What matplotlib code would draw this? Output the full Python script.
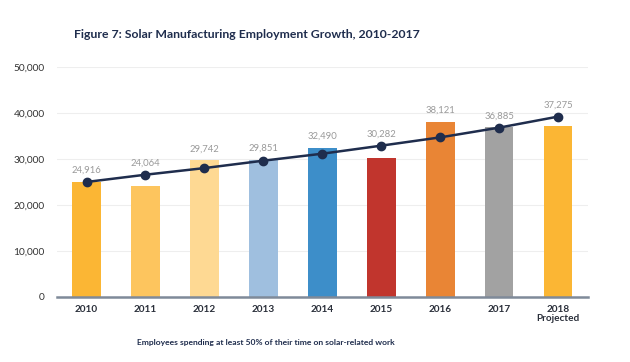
import matplotlib
matplotlib.use("Agg")
import matplotlib.pyplot as plt
from matplotlib.ticker import FuncFormatter

# data
years = ["2010", "2011", "2012", "2013", "2014", "2015", "2016", "2017", "2018\nProjected"]
employees = [24916, 24064, 29742, 29851, 32490, 30282, 38121, 36885, 37275]
trend = [25000, 26580, 28020, 29630, 31150, 32900, 34700, 36820, 39220]
bar_colors = ["#fbb634", "#fdc55e", "#fed993", "#9fbfdf", "#3d8ec9",
              "#c1352d", "#e98535", "#a2a2a2", "#fbb634"]

NAVY = "#1f2d4d"

plt.rcParams["font.family"] = ["Lato", "DejaVu Sans"]

fig = plt.figure(figsize=(6.3, 3.62), dpi=100)
ax = fig.add_axes([0.0905, 0.1796, 0.8425, 0.6354])

x = list(range(len(years)))
ax.bar(x, employees, width=0.48, color=bar_colors, zorder=2)
ax.plot(x, trend, color=NAVY, linewidth=1.8, marker="o", markersize=6, zorder=3)

for xi, val, tr in zip(x, employees, trend):
    ax.annotate(f"{val:,}", (xi, max(val, tr)), xytext=(0, 5), textcoords="offset points",
                ha="center", va="bottom", fontsize=6.8, color="#9a9a9a")

ax.set_xlim(-0.5, 8.5)
ax.set_ylim(0, 50000)
ax.set_yticks(range(0, 50001, 10000))
ax.yaxis.set_major_formatter(FuncFormatter(lambda v, p: f"{int(v):,}"))
ax.set_xticks(x)
ax.set_xticklabels(years, fontweight="bold", fontsize=7.2, color="#2a2f3a", linespacing=0.95)
ax.tick_params(axis="y", length=0, pad=9, labelsize=7.3, labelcolor="#333333")
ax.tick_params(axis="x", length=0, pad=6)

ax.grid(axis="y", color="#eeeeee", linewidth=0.8, zorder=0)
for side in ["top", "right", "left"]:
    ax.spines[side].set_visible(False)
ax.spines["bottom"].set_color("#7f8a99")
ax.spines["bottom"].set_linewidth(1.8)
ax.spines["bottom"].set_zorder(4)

fig.text(247 / 630, 1 - 35 / 362, "Figure 7: Solar Manufacturing Employment Growth, 2010-2017",
         ha="center", va="center", fontsize=8.8, fontweight="bold", color=NAVY)
fig.text(266 / 630, 1 - 343 / 362, "Employees spending at least 50% of their time on solar-related work",
         ha="center", va="center", fontsize=6.1, fontweight="bold", color=NAVY)

fig.savefig("out.png", dpi=100)
